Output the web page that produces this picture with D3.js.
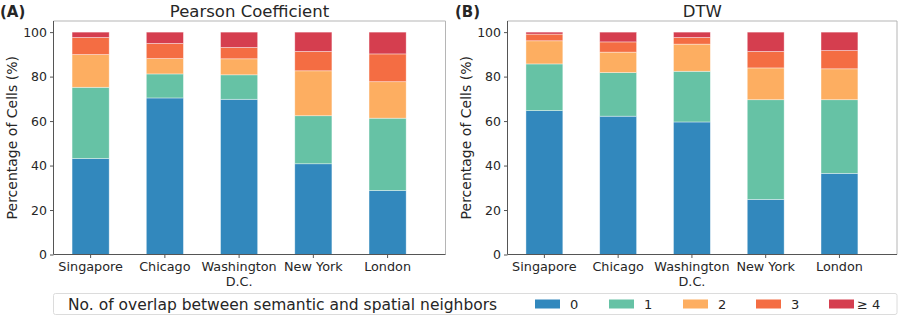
<!DOCTYPE html>
<html>
<head>
<meta charset="utf-8">
<script src="https://cdn.jsdelivr.net/npm/d3@7"></script>
<style>
  body { margin: 0; background: #fff; }
  text { font-family: 'DejaVu Sans', sans-serif; fill: #262626; }
</style>
</head>
<body>
<div id="chart"></div>
<script>
var cities = ['Singapore', 'Chicago', 'Washington\nD.C.', 'New York', 'London'];
var seriesKeys = ['0', '1', '2', '3', '\u2265 4'];
var colors = ['#3288bd', '#66c2a5', '#fdae61', '#f46d43', '#d53e4f'];
var yTicks = [0, 20, 40, 60, 80, 100];

// share of cells per overlap count, one array per overlap level
var pearson0 = [43.2, 70.4, 69.8, 40.8, 28.8];
var pearson1 = [32.0, 10.8, 11.0, 21.6, 32.5];
var pearson2 = [14.7, 6.9, 7.2, 20.2, 16.4];
var pearson3 = [7.7, 6.8, 5.1, 8.7, 12.5];
var pearson4 = [2.4, 5.1, 6.9, 8.7, 9.8];

var dtw0 = [64.7, 62.2, 59.6, 24.8, 36.5];
var dtw1 = [21.0, 19.6, 22.8, 44.8, 33.1];
var dtw2 = [10.4, 9.2, 12.2, 14.3, 13.9];
var dtw3 = [3.0, 4.6, 3.0, 7.4, 8.2];
var dtw4 = [0.9, 4.4, 2.4, 8.7, 8.3];

var W = 900, H = 317;

var svg = d3.select('#chart').append('svg')
    .attr('width', W)
    .attr('height', H);

function panel(opts) {
  var series = opts.series;
  var rows = cities.map(function(c, i) {
    var r = {city: c, i: i};
    seriesKeys.forEach(function(k, j) { r[k] = series[j][i]; });
    return r;
  });
  var stacked = d3.stack().keys(seriesKeys)(rows);

  var x = d3.scaleLinear().domain([-0.5, 4.78]).range([opts.left, opts.right]);
  var y = d3.scaleLinear().domain([0, 105]).range([254.5, 21]);
  var bw = x(0.25) - x(-0.25);

  var g = svg.append('g');

  var layer = g.selectAll('.layer')
      .data(stacked)
    .enter().append('g')
      .attr('class', 'layer')
      .style('fill', function(d, i) { return colors[i]; });

  layer.selectAll('rect')
      .data(function(d) { return d; })
    .enter().append('rect')
      .attr('x', function(d, i) { return x(i) - bw / 2; })
      .attr('width', bw)
      .attr('y', function(d) { return y(d[1]); })
      .attr('height', function(d) { return y(d[0]) - y(d[1]); })
      .style('stroke', 'rgba(255,255,255,0.55)')
      .style('stroke-width', 0.7);

  // frame: light top/right, darker left/bottom
  g.append('path')
      .attr('d', 'M' + x.range()[0] + ',' + y(105) + 'H' + x.range()[1] + 'V' + y(0))
      .style('fill', 'none')
      .style('stroke', '#b5b5b5')
      .style('stroke-width', 1);

  var yAxis = d3.axisLeft(y).tickValues(yTicks).tickSize(3.5).tickPadding(3);
  var gy = g.append('g')
      .attr('transform', 'translate(' + opts.left + ',0)')
      .call(yAxis);
  gy.select('.domain').attr('d', 'M0,' + y(105) + 'V' + y(0)).style('stroke', '#555');
  gy.selectAll('.tick line').style('stroke', '#555');
  gy.selectAll('.tick text').style('font-size', '12.5px').style('font-family', 'DejaVu Sans').attr('fill', '#262626');

  var gx = g.append('g')
      .attr('transform', 'translate(0,' + y(0) + ')');
  gx.append('path')
      .attr('d', 'M' + x.range()[0] + ',0H' + x.range()[1])
      .style('stroke', '#555');
  var tick = gx.selectAll('.tick')
      .data(cities)
    .enter().append('g')
      .attr('transform', function(d, i) { return 'translate(' + x(i) + ',0)'; });
  tick.append('line').attr('y2', 3.5).style('stroke', '#555');
  tick.append('text')
      .style('text-anchor', 'middle')
      .style('font-size', '12.8px')
      .selectAll('tspan')
      .data(function(d) { return d.split('\n'); })
    .enter().append('tspan')
      .attr('x', 0)
      .attr('y', function(d, i) { return 16.5 + i * 14.5; })
      .text(function(d) { return d; });

  svg.append('text')
      .attr('x', (opts.left + opts.right) / 2)
      .attr('y', 17)
      .style('text-anchor', 'middle')
      .style('font-size', '16.5px')
      .text(opts.title);

  svg.append('text')
      .attr('x', opts.tagX)
      .attr('y', 17)
      .style('font-size', '15px')
      .style('font-weight', 'bold')
      .text(opts.tag);

  svg.append('text')
      .attr('transform', 'translate(' + (opts.left - 36.5) + ',' + y(52.5) + ') rotate(-90)')
      .style('text-anchor', 'middle')
      .style('font-size', '14px')
      .text('Percentage of Cells (%)');
}

panel({left: 53.5, right: 445.5, title: 'Pearson Coefficient', tag: '(A)', tagX: 0,
  series: [pearson0, pearson1, pearson2, pearson3, pearson4]});
panel({left: 507.5, right: 897, title: 'DTW', tag: '(B)', tagX: 455,
  series: [dtw0, dtw1, dtw2, dtw3, dtw4]});

// legend
var legend = svg.append('g');
legend.append('rect')
    .attr('x', 53.5)
    .attr('y', 293.5)
    .attr('width', 843.5)
    .attr('height', 21)
    .attr('rx', 2)
    .style('fill', 'white')
    .style('stroke', '#dcdcdc');
legend.append('text')
    .attr('x', 68)
    .attr('y', 310)
    .style('font-size', '15.5px')
    .text('No. of overlap between semantic and spatial neighbors');

var legendX = [535, 609, 683, 756, 829];
var item = legend.selectAll('.item')
    .data(seriesKeys)
  .enter().append('g')
    .attr('class', 'item')
    .attr('transform', function(d, i) { return 'translate(' + legendX[i] + ',0)'; });
item.append('rect')
    .attr('y', 299.5)
    .attr('width', 25)
    .attr('height', 9)
    .style('fill', function(d, i) { return colors[i]; });
item.append('text')
    .attr('x', function(d, i) { return i === 4 ? 28 : 35; })
    .attr('y', 309)
    .style('font-size', '13px')
    .text(function(d) { return d; });
</script>
</body>
</html>
